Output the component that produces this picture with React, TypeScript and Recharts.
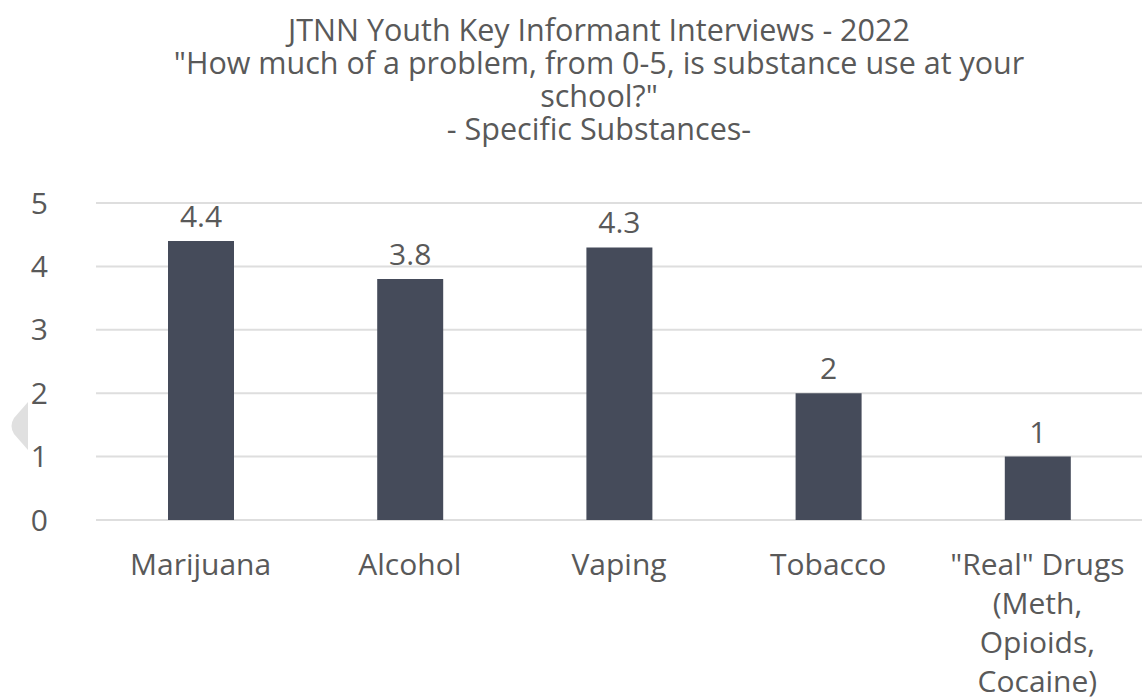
import { BarChart, Bar, XAxis, YAxis, CartesianGrid, LabelList } from 'recharts'

const categories = ['Marijuana', 'Alcohol', 'Vaping', 'Tobacco', '"Real" Drugs (Meth, Opioids, Cocaine)']
const categoryLines = [
  ['Marijuana'],
  ['Alcohol'],
  ['Vaping'],
  ['Tobacco'],
  ['"Real" Drugs', '(Meth,', 'Opioids,', 'Cocaine)'],
]
const scores = [4.4, 3.8, 4.3, 2, 1]
const yTicks = [0, 1, 2, 3, 4, 5]
const titleLines = [
  'JTNN Youth Key Informant Interviews - 2022',
  '"How much of a problem, from 0-5, is substance use at your',
  'school?"',
  '- Specific Substances-',
]

const data = categories.map((name, i) => ({ name, score: scores[i] }))

const FONT = '"Open Sans", "Noto Sans", sans-serif'
const TEXT = '#595959'
const SIZE = 30

function CategoryTick({ x, y, payload }: any) {
  const idx = categories.indexOf(payload.value)
  const lines = categoryLines[idx] || [payload.value]
  return (
    <text x={x} y={y + 55} textAnchor="middle" fill={TEXT} fontSize={SIZE} fontFamily={FONT}>
      {lines.map((ln, i) => (
        <tspan key={i} x={x} dy={i === 0 ? 0 : 39}>
          {ln}
        </tspan>
      ))}
    </text>
  )
}

export default function App() {
  return (
    <div style={{ position: 'absolute', left: 0, top: 0, width: 1142, height: 700, background: '#fff', fontFamily: FONT }}>
      <div
        style={{
          position: 'absolute',
          left: 0,
          top: 13,
          width: 1198,
          textAlign: 'center',
          fontSize: 30.5,
          lineHeight: '33px',
          color: TEXT,
        }}
      >
        {titleLines.map((t) => (
          <div key={t}>{t}</div>
        ))}
      </div>
      <svg style={{ position: 'absolute', left: 10, top: 402 }} width={20} height={50}>
        <path d="M18 0 L18 48 L4 32 Q-1 24 4 16 Z" fill="#e0e0e0" />
      </svg>
      <BarChart width={1142} height={700} data={data} margin={{ top: 203, right: 0, left: 0, bottom: 0 }}>
        <CartesianGrid vertical={false} stroke="#dedede" strokeWidth={2} />
        <XAxis
          dataKey="name"
          height={180}
          axisLine={false}
          tickLine={false}
          tickSize={0}
          tickMargin={0}
          interval={0}
          tick={(props: any) => <CategoryTick x={props.x} y={props.y} payload={props.payload} />}
        />
        <YAxis
          width={96}
          domain={[0, 5]}
          ticks={yTicks}
          axisLine={false}
          tickLine={false}
          tickSize={0}
          tickMargin={48}
          tick={{ fill: TEXT, fontSize: SIZE, fontFamily: FONT }}
        />
        <Bar dataKey="score" fill="#454b5a" barSize={66} isAnimationActive={false}>
          <LabelList dataKey="score" position="top" offset={14} fill={TEXT} fontSize={SIZE} fontFamily={FONT} />
        </Bar>
      </BarChart>
    </div>
  )
}
